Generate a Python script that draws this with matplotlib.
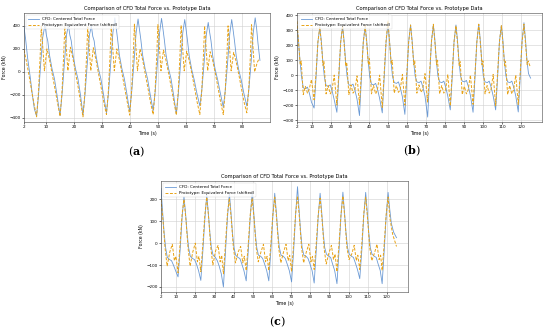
import matplotlib
matplotlib.use("Agg")
import matplotlib.pyplot as plt

# ---- panel (a) ----
a_cfd_t = [2.0, 2.6, 3.3, 4.2, 5.0, 5.7, 6.5, 7.2, 7.9, 8.7, 9.5,
           10.0, 10.5, 11.1, 12.0, 12.9, 13.8, 14.9, 15.6, 16.4, 17.2, 17.9,
           18.4, 18.9, 19.5, 20.4, 21.3, 22.2, 23.1, 23.8, 24.6, 25.4, 26.1,
           26.6, 27.1, 27.7, 28.6, 29.5, 30.4, 31.5, 32.2, 33.0, 33.8, 34.5,
           35.0, 35.5, 36.1, 37.0, 37.9, 38.8, 39.8, 40.5, 41.3, 42.1, 42.8,
           43.3, 43.8, 44.4, 45.3, 46.2, 47.1, 48.2, 48.9, 49.7, 50.5, 51.2,
           51.7, 52.2, 52.8, 53.7, 54.6, 55.5, 56.5, 57.2, 58.0, 58.8, 59.5,
           60.0, 60.5, 61.1, 62.0, 62.9, 63.8, 64.9, 65.6, 66.4, 67.2, 67.9,
           68.4, 68.9, 69.5, 70.4, 71.3, 72.2, 73.3, 74.0, 74.8, 75.6, 76.3,
           76.8, 77.3, 77.9, 78.8, 79.7, 80.6, 81.7, 82.4, 83.2, 84.0, 84.7,
           85.2, 85.7, 86.4]
a_cfd_f = [390, 280, 120, -40, -200, -320, -385, -200, 50, 300, 410,
           320, 270, 150, 30, -60, -200, -380, -200, 60, 320, 410,
           320, 270, 150, 30, -60, -200, -375, -200, 60, 320, 400,
           310, 270, 150, 30, -60, -190, -355, -190, 70, 340, 470,
           380, 280, 150, 30, -60, -190, -345, -180, 70, 340, 460,
           370, 280, 150, 30, -60, -190, -337, -180, 70, 340, 465,
           375, 280, 150, 30, -60, -200, -365, -190, 70, 340, 455,
           365, 270, 140, 20, -70, -180, -296, -160, 70, 320, 430,
           345, 270, 140, 20, -70, -180, -308, -160, 70, 330, 455,
           365, 270, 140, 20, -70, -180, -296, -160, 70, 340, 470,
           380, 250, 100]
a_pro_t = [2.0, 2.8, 3.8, 4.7, 5.6, 6.5, 7.2, 7.8, 8.2,
           9.3, 10.2, 11.1, 12.1, 13.1, 14.0, 14.9, 15.6, 16.2, 16.6,
           17.7, 18.6, 19.5, 20.5, 21.5, 22.3, 23.1, 23.8, 24.4, 24.8,
           25.9, 26.8, 27.7, 28.7, 29.7, 30.6, 31.5, 32.2, 32.8, 33.2,
           34.3, 35.2, 36.1, 37.1, 38.1, 39.0, 39.8, 40.5, 41.1, 41.5,
           42.6, 43.5, 44.4, 45.4, 46.4, 47.3, 48.2, 48.9, 49.5, 49.9,
           51.0, 51.9, 52.8, 53.8, 54.8, 55.7, 56.5, 57.2, 57.8, 58.2,
           59.3, 60.2, 61.1, 62.1, 63.1, 64.0, 64.9, 65.6, 66.2, 66.6,
           67.7, 68.6, 69.5, 70.5, 71.5, 72.4, 73.3, 74.0, 74.6, 75.0,
           76.1, 77.0, 77.9, 78.9, 79.9, 80.8, 81.7, 82.4, 83.0, 83.4,
           84.5, 85.4, 86.2]
a_pro_f = [190, 100, -30, -160, -280, -390, -170, 150, 400,
           10, 200, 110, -20, -150, -270, -385, -170, 150, 395,
           10, 215, 120, -20, -150, -270, -390, -170, 150, 390,
           10, 210, 110, -20, -150, -270, -370, -160, 150, 400,
           10, 200, 110, -20, -150, -270, -375, -160, 150, 415,
           10, 200, 110, -20, -150, -270, -370, -160, 150, 410,
           10, 190, 100, -20, -150, -270, -375, -160, 150, 405,
           10, 180, 100, -20, -150, -270, -370, -160, 150, 400,
           10, 175, 100, -20, -150, -270, -370, -160, 150, 400,
           10, 170, 90, -30, -160, -270, -355, -150, 150, 410,
           0, 80, 120]

# ---- panel (b) ----
b_cfd_t = [2.0, 2.8, 3.6, 4.4, 5.3, 6.5, 7.5, 8.5, 9.6, 11.0, 12.0, 13.0,
           14.0, 14.8, 15.6, 16.4, 17.3, 18.5, 19.5, 20.5, 21.6, 23.0, 24.0, 25.0,
           26.0, 26.8, 27.6, 28.4, 29.3, 30.5, 31.5, 32.5, 33.6, 34.9, 35.9, 36.9,
           37.9, 38.7, 39.5, 40.3, 41.2, 42.4, 43.4, 44.4, 45.5, 46.9, 47.9, 48.9,
           49.9, 50.7, 51.5, 52.3, 53.2, 54.4, 55.4, 56.4, 57.5, 58.8, 59.8, 60.8,
           61.8, 62.6, 63.4, 64.2, 65.1, 66.3, 67.3, 68.3, 69.4, 70.8, 71.8, 72.8,
           73.8, 74.6, 75.4, 76.2, 77.1, 78.3, 79.3, 80.3, 81.4, 82.7, 83.7, 84.7,
           85.7, 86.5, 87.3, 88.1, 89.0, 90.2, 91.2, 92.2, 93.3, 94.7, 95.7, 96.7,
           97.7, 98.5, 99.3, 100.1, 101.0, 102.2, 103.2, 104.2, 105.3, 106.6, 107.6, 108.6,
           109.6, 110.4, 111.2, 112.0, 112.9, 114.1, 115.1, 116.1, 117.2, 118.5, 119.5, 120.5,
           121.5, 122.3, 123.1, 123.9, 125.0]
b_cfd_f = [330, 230, 90, -10, -85, -90, -80, -120, -180, -220, -20, 220,
           320, 230, 90, -10, -70, -75, -65, -105, -165, -248, -20, 220,
           325, 230, 90, -10, -65, -70, -60, -100, -160, -270, -20, 220,
           325, 230, 90, -10, -60, -65, -55, -95, -155, -252, -20, 220,
           340, 235, 90, -10, -50, -55, -45, -85, -145, -262, -20, 225,
           335, 235, 90, -5, -45, -50, -40, -80, -140, -280, -20, 225,
           335, 235, 90, -5, -45, -50, -40, -80, -140, -232, -20, 225,
           335, 235, 90, -5, -40, -45, -35, -75, -135, -248, -20, 225,
           340, 235, 90, -5, -45, -50, -40, -80, -140, -232, -20, 225,
           330, 235, 90, -5, -45, -50, -40, -80, -140, -246, -20, 225,
           350, 240, 95, 10, -20]
b_pro_t = [2.0, 2.9, 3.7, 4.2, 5.3, 6.4, 7.5, 8.4, 9.6, 11.0, 12.0, 13.0,
           14.0, 14.9, 15.7, 16.2, 17.3, 18.4, 19.5, 20.4, 21.6, 23.0, 24.0, 25.0,
           26.0, 26.9, 27.7, 28.2, 29.3, 30.4, 31.5, 32.4, 33.6, 34.9, 35.9, 36.9,
           37.9, 38.8, 39.6, 40.1, 41.2, 42.3, 43.4, 44.3, 45.5, 46.9, 47.9, 48.9,
           49.9, 50.8, 51.6, 52.1, 53.2, 54.3, 55.4, 56.3, 57.5, 58.8, 59.8, 60.8,
           61.8, 62.7, 63.5, 64.0, 65.1, 66.2, 67.3, 68.2, 69.4, 70.8, 71.8, 72.8,
           73.8, 74.7, 75.5, 76.0, 77.1, 78.2, 79.3, 80.2, 81.4, 82.7, 83.7, 84.7,
           85.7, 86.6, 87.4, 87.9, 89.0, 90.1, 91.2, 92.1, 93.3, 94.7, 95.7, 96.7,
           97.7, 98.6, 99.4, 99.9, 101.0, 102.1, 103.2, 104.1, 105.3, 106.6, 107.6, 108.6,
           109.6, 110.5, 111.3, 111.8, 112.9, 114.0, 115.1, 116.0, 117.2, 118.5, 119.5, 120.5,
           121.5, 122.4, 123.2, 123.7, 124.8]
b_pro_f = [360, 200, 70, 95, -130, -75, -120, -95, -30, -165, 10, 220,
           320, 200, 65, 90, -125, -70, -125, -100, 0, -200, 10, 220,
           330, 195, 60, 85, -130, -65, -120, -105, -5, -195, 10, 220,
           330, 200, 70, 110, -125, -70, -125, -100, 0, -215, 15, 230,
           365, 210, 75, 100, -120, -70, -115, -100, 5, -200, 10, 220,
           335, 205, 70, 95, -120, -65, -115, -95, 10, -180, 15, 225,
           340, 205, 70, 100, -125, -70, -120, -100, 5, -205, 10, 225,
           330, 200, 65, 90, -130, -75, -125, -100, 0, -195, 10, 220,
           340, 205, 70, 95, -125, -70, -120, -100, 5, -205, 10, 225,
           330, 200, 65, 90, -130, -70, -125, -100, 0, -195, 10, 220,
           340, 200, 70, 95, 55]

# ---- panel (c) ----
c_cfd_t = [2.0, 2.8, 3.6, 4.4, 5.3, 6.5, 7.5, 8.5, 9.6, 10.9, 12.0, 13.0,
           14.0, 14.8, 15.6, 16.4, 17.3, 18.5, 19.5, 20.5, 21.6, 22.8, 23.9, 24.9,
           25.9, 26.7, 27.5, 28.3, 29.2, 30.4, 31.4, 32.4, 33.5, 34.6, 35.7, 36.7,
           37.7, 38.5, 39.3, 40.1, 41.0, 42.2, 43.2, 44.2, 45.3, 46.5, 47.6, 48.6,
           49.6, 50.4, 51.2, 52.0, 52.9, 54.1, 55.1, 56.1, 57.2, 58.3, 59.4, 60.4,
           61.4, 62.2, 63.0, 63.8, 64.7, 65.9, 66.9, 67.9, 69.0, 70.2, 71.3, 72.3,
           73.3, 74.1, 74.9, 75.7, 76.6, 77.8, 78.8, 79.8, 80.9, 82.0, 83.1, 84.1,
           85.1, 85.9, 86.7, 87.5, 88.4, 89.6, 90.6, 91.6, 92.7, 93.9, 95.0, 96.0,
           97.0, 97.8, 98.6, 99.4, 100.3, 101.5, 102.5, 103.5, 104.6, 105.8, 106.9, 107.9,
           108.9, 109.7, 110.5, 111.3, 112.2, 113.4, 114.4, 115.4, 116.5, 117.5, 118.6, 119.6,
           120.6, 121.4, 122.3, 123.5, 125.0]
c_cfd_f = [250, 150, 50, -20, -65, -75, -80, -100, -125, -154, -30, 115,
           212, 140, 50, -20, -60, -70, -75, -95, -125, -170, -30, 110,
           220, 140, 50, -20, -55, -65, -80, -105, -140, -200, -35, 115,
           228, 145, 50, -20, -55, -65, -70, -95, -125, -172, -30, 120,
           228, 145, 50, -20, -55, -60, -70, -95, -125, -172, -30, 120,
           228, 145, 50, -20, -55, -60, -70, -95, -125, -177, -30, 130,
           258, 155, 55, -20, -55, -60, -70, -95, -125, -182, -30, 120,
           228, 145, 50, -20, -50, -60, -65, -95, -125, -185, -30, 125,
           233, 145, 50, -20, -50, -60, -65, -90, -120, -162, -30, 125,
           232, 145, 50, -20, -50, -60, -65, -95, -125, -185, -30, 125,
           232, 160, 90, 50, 25]
c_pro_t = [2.0, 3.0, 4.1, 5.2, 6.6, 7.9, 9.0, 9.8, 10.9, 12.0, 13.0,
           14.0, 15.0, 16.1, 17.2, 18.6, 19.9, 21.0, 21.8, 22.8, 23.9, 24.9,
           25.9, 26.9, 28.0, 29.1, 30.5, 31.8, 32.9, 33.7, 34.6, 35.7, 36.7,
           37.7, 38.7, 39.8, 40.9, 42.3, 43.6, 44.7, 45.5, 46.5, 47.6, 48.6,
           49.6, 50.6, 51.7, 52.8, 54.2, 55.5, 56.6, 57.4, 58.3, 59.4, 60.4,
           61.4, 62.4, 63.5, 64.6, 66.0, 67.3, 68.4, 69.2, 70.2, 71.3, 72.3,
           73.3, 74.3, 75.4, 76.5, 77.9, 79.2, 80.3, 81.1, 82.0, 83.1, 84.1,
           85.1, 86.1, 87.2, 88.3, 89.7, 91.0, 92.1, 92.9, 93.9, 95.0, 96.0,
           97.0, 98.0, 99.1, 100.2, 101.6, 102.9, 104.0, 104.8, 105.8, 106.9, 107.9,
           108.9, 109.9, 111.0, 112.1, 113.5, 114.8, 115.9, 116.7, 117.5, 118.6, 119.6,
           120.6, 121.6, 123.0, 125.0]
c_pro_f = [200, 110, -20, -105, -40, -5, -80, -60, -135, 0, 130,
           200, 110, -20, -105, -40, 0, -85, -60, -130, 0, 130,
           210, 115, -20, -100, -35, -10, -85, -55, -140, 0, 135,
           205, 110, -20, -90, -40, -15, -90, -60, -125, 0, 130,
           205, 110, -20, -85, -40, -5, -85, -60, -125, 0, 130,
           210, 110, -25, -90, -40, -5, -80, -55, -130, 0, 135,
           215, 115, -20, -90, -40, -5, -85, -60, -120, 0, 130,
           205, 110, -25, -95, -45, -10, -75, -50, -130, 0, 130,
           215, 115, -20, -75, -50, -10, -80, -55, -120, 0, 135,
           210, 110, -20, -80, -45, -5, -75, -55, -125, 0, 130,
           210, 110, 40, -15]

x_ticks_a = [2, 10, 20, 30, 40, 50, 60, 70, 80]
x_ticks_bc = [2, 10, 20, 30, 40, 50, 60, 70, 80, 90, 100, 110, 120]
y_ticks_a = [-400, -200, 0, 200, 400]
y_ticks_b = [-300, -200, -100, 0, 100, 200, 300, 400]
y_ticks_c = [-200, -100, 0, 100, 200]

TITLE = "Comparison of CFD Total Force vs. Prototype Data"
BLUE = "#5b8fd0"
ORANGE = "#e8a317"

plt.rcParams["mathtext.fontset"] = "dejavuserif"

fig = plt.figure(figsize=(5.5, 3.32), dpi=100)


def draw_panel(ax, t1, f1, t2, f2, xticks, yticks, xlim, ylim):
    ax.plot(t1, f1, color=BLUE, lw=0.6, alpha=0.9, label="CFD: Centered Total Force")
    ax.plot(t2, f2, color=ORANGE, lw=0.7, ls="--", dashes=(3, 1.6),
            label="Prototype: Equivalent Force (shifted)")
    ax.set_xticks(xticks)
    ax.set_yticks(yticks)
    ax.set_xlim(*xlim)
    ax.set_ylim(*ylim)
    ax.grid(True, color="#d0d0d0", lw=0.4)
    ax.set_title(TITLE, fontsize=3.7, pad=2)
    ax.set_xlabel("Time (s)", fontsize=3.3, labelpad=1)
    ax.set_ylabel("Force (kN)", fontsize=3.3, labelpad=1.5)
    ax.tick_params(labelsize=3.0, length=1.5, width=0.4, pad=1)
    for s in ax.spines.values():
        s.set_linewidth(0.4)
        s.set_color("#444444")
    leg = ax.legend(loc="upper left", fontsize=3.0, frameon=True,
                    handlelength=2.5, borderpad=0.5, labelspacing=0.5)
    leg.get_frame().set_linewidth(0.3)


ax_a = fig.add_axes([24 / 550, 1 - 122 / 332, 246 / 550, 109 / 332])
draw_panel(ax_a, a_cfd_t, a_cfd_f, a_pro_t, a_pro_f, x_ticks_a, y_ticks_a,
           (2, 90), (-435, 512))

ax_b = fig.add_axes([297 / 550, 1 - 122 / 332, 245 / 550, 109 / 332])
draw_panel(ax_b, b_cfd_t, b_cfd_f, b_pro_t, b_pro_f, x_ticks_bc, y_ticks_b,
           (2, 131), (-313, 415))

ax_c = fig.add_axes([161 / 550, 1 - 292 / 332, 247 / 550, 111 / 332])
draw_panel(ax_c, c_cfd_t, c_cfd_f, c_pro_t, c_pro_f, x_ticks_bc, y_ticks_c,
           (2, 131), (-223, 284))

for x, y, s in [(137, 152, "a"), (412, 151, "b"), (277, 322, "c")]:
    fig.text(x / 550, 1 - y / 332, r"($\mathbf{%s}$)" % s, fontsize=8,
             ha="center", va="center", family="DejaVu Serif")

fig.savefig("out.png", dpi=100)
